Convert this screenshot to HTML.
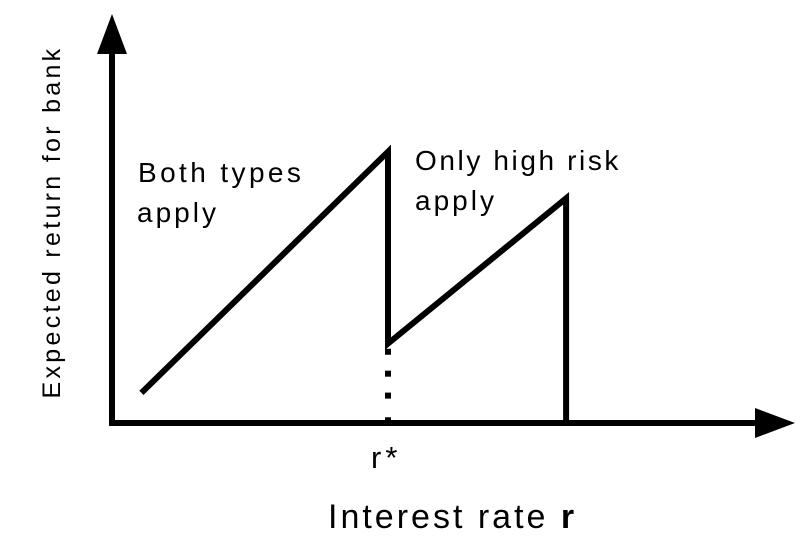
<!DOCTYPE html>
<html><head><meta charset="utf-8"><style>
html,body{margin:0;padding:0;background:#fff;}
svg text{font-family:"Liberation Sans",sans-serif;fill:#000;}
</style></head><body>
<svg id="chart" width="804" height="546" viewBox="0 0 804 546">
<g id="axes">
 <line x1="112" y1="50" x2="112" y2="426" stroke="#000" stroke-width="6"/>
 <polygon points="112,14 97,54 127,54" fill="#000"/>
 <line x1="109" y1="423" x2="760" y2="423" stroke="#000" stroke-width="6"/>
 <polygon points="795,423 755,408 755,438" fill="#000"/>
</g>
<g id="marks"></g>
<text x="138" y="182" font-size="28" letter-spacing="3.4">Both types</text>
<text x="137" y="222" font-size="28" letter-spacing="3">apply</text>
<text x="415" y="170" font-size="28" letter-spacing="2.6">Only high risk</text>
<text x="415" y="210" font-size="28" letter-spacing="3">apply</text>
<text x="371" y="468" font-size="31" letter-spacing="4">r*</text>
<text x="328" y="528" font-size="34" letter-spacing="3">Interest rate <tspan font-weight="bold">r</tspan></text>
<text transform="translate(60,222) rotate(-90)" text-anchor="middle" font-size="25" letter-spacing="3.3">Expected return for bank</text>
</svg>
<script>
// data units: rate 0..10, return 0..10
const rates = [1, 10, 10, 16.5, 16.5];
const returns = [1.1, 9.9, 2.9, 8.2, 0];
const rStar = [10];
const dotLevels = [2.6, 1.8, 1.0, 0.1];
function xs(v){ return 114 + v*27.4; }
function ys(v){ return 423 - v*27.4; }
const g = document.getElementById('marks');
const ns = 'http://www.w3.org/2000/svg';
const pts = rates.map((r,i)=>xs(r)+','+ys(returns[i])).join(' ');
const pl = document.createElementNS(ns,'polyline');
pl.setAttribute('points', pts);
pl.setAttribute('fill','none');
pl.setAttribute('stroke','#000');
pl.setAttribute('stroke-width','6');
pl.setAttribute('stroke-linejoin','miter');


g.appendChild(pl);
dotLevels.forEach(d=>{
  const r = document.createElementNS(ns,'rect');
  r.setAttribute('x', xs(rStar[0])-3);
  r.setAttribute('y', ys(d)-3);
  r.setAttribute('width',6);
  r.setAttribute('height',6);
  r.setAttribute('fill','#000');
  
  
  g.appendChild(r);
});
</script>
</body></html>
